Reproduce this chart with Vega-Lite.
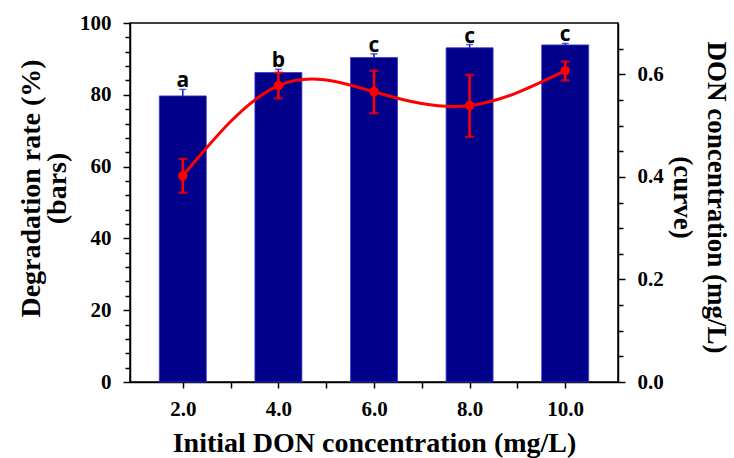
{
  "$schema": "https://vega.github.io/schema/vega-lite/v6.json",
  "width": 488,
  "height": 359,
  "autosize": {"type": "none"},
  "padding": {"left": 130, "top": 23, "right": 116, "bottom": 76},
  "background": "white",
  "config": {
    "view": {"stroke": "black", "strokeWidth": 1.5},
    "axis": {
      "labelFont": "Liberation Serif",
      "labelFontWeight": "bold",
      "labelFontSize": 21,
      "labelColor": "black",
      "labelOverlap": false,
      "labelBound": false,
      "titleFont": "Liberation Serif",
      "titleFontWeight": "bold",
      "titleFontSize": 27,
      "titleColor": "black",
      "domainColor": "black",
      "domainWidth": 1.5,
      "tickColor": "black",
      "tickWidth": 1.5,
      "grid": false
    }
  },
  "data": {
    "values": [
      {"conc": 2, "rate": 79.7, "rate_lo": 77.9, "rate_hi": 81.5, "don": 0.402, "don_lo": 0.369, "don_hi": 0.435, "letter": "a"},
      {"conc": 4, "rate": 86.2, "rate_lo": 85.3, "rate_hi": 87.1, "don": 0.578, "don_lo": 0.553, "don_hi": 0.603, "letter": "b"},
      {"conc": 6, "rate": 90.4, "rate_lo": 89.4, "rate_hi": 91.4, "don": 0.566, "don_lo": 0.524, "don_hi": 0.607, "letter": "c"},
      {"conc": 8, "rate": 93.1, "rate_lo": 92.2, "rate_hi": 94.0, "don": 0.539, "don_lo": 0.478, "don_hi": 0.599, "letter": "c"},
      {"conc": 10, "rate": 93.9, "rate_lo": 93.5, "rate_hi": 94.3, "don": 0.607, "don_lo": 0.588, "don_hi": 0.625, "letter": "c"}
    ]
  },
  "encoding": {
    "x": {
      "field": "conc", "type": "quantitative",
      "title": "Initial DON concentration (mg/L)",
      "scale": {"domain": [1, 11], "nice": false, "zero": false},
      "axis": {
        "values": [2, 3, 4, 5, 6, 7, 8, 9, 10],
        "tickCount": 100,
        "labelOverlap": false,
        "labelExpr": "datum.value % 2 === 0 ? format(datum.value, '.1f') : ''",
        "tickSize": 6,
        "labelPadding": 10,
        "titlePadding": 10,
        "titleFontSize": 28
      }
    }
  },
  "layer": [
    {
      "layer": [
        {
          "mark": {"type": "bar", "size": 47, "color": "#00008B", "stroke": "#3a3acc", "strokeWidth": 0.8},
          "encoding": {
            "y": {
              "field": "rate", "type": "quantitative",
              "title": ["Degradation rate (%)", "(bars)"],
              "scale": {"domain": [0, 100], "nice": false},
              "axis": {
                "titleLineHeight": 26,
                "titleFontSize": 28,
                "titleY": 165,
                "values": [0, 4, 8, 12, 16, 20, 24, 28, 32, 36, 40, 44, 48, 52, 56, 60, 64, 68, 72, 76, 80, 84, 88, 92, 96, 100],
                "tickCount": 100,
                "labelOverlap": false,
                "labelExpr": "datum.value % 20 === 0 ? datum.value : ''",
                "tickSize": {"condition": {"test": "datum.value % 20 === 0", "value": 7}, "value": 5},
                "labelPadding": 12,
                "titlePadding": 8
              }
            }
          }
        },
        {
          "mark": {"type": "rule", "color": "#1a1acc", "strokeWidth": 1.5},
          "encoding": {
            "y": {"field": "rate", "type": "quantitative", "title": ["Degradation rate (%)", "(bars)"]},
            "y2": {"field": "rate_hi"}
          }
        },
        {
          "mark": {"type": "tick", "orient": "horizontal", "color": "#1a1acc", "size": 7, "thickness": 1.5},
          "encoding": {
            "y": {"field": "rate_hi", "type": "quantitative", "title": ["Degradation rate (%)", "(bars)"]}
          }
        },
        {
          "mark": {"type": "text", "font": "Open Sans", "fontWeight": "bold", "fontSize": 21, "color": "black", "baseline": "alphabetic", "dy": -2},
          "encoding": {
            "y": {"field": "rate_hi", "type": "quantitative", "title": ["Degradation rate (%)", "(bars)"]},
            "text": {"field": "letter"}
          }
        }
      ]
    },
    {
      "layer": [
        {
          "mark": {"type": "line", "color": "#FF0000", "strokeWidth": 3, "interpolate": "natural"},
          "encoding": {
            "y": {
              "field": "don", "type": "quantitative",
              "title": ["DON concentration (mg/L)", "(curve)"],
              "scale": {"domain": [0, 0.7], "nice": false},
              "axis": {
                "orient": "right",
                "titleLineHeight": 34,
                "titleY": 174,
                "values": [0, 0.05, 0.1, 0.15, 0.2, 0.25, 0.3, 0.35, 0.4, 0.45, 0.5, 0.55, 0.6, 0.65],
                "tickCount": 100,
                "labelOverlap": false,
                "labelExpr": "abs(datum.value * 5 - round(datum.value * 5)) < 0.001 ? format(datum.value, '.1f') : ''",
                "tickSize": {"condition": {"test": "abs(datum.value * 5 - round(datum.value * 5)) < 0.001", "value": 7}, "value": 5},
                "labelPadding": 12,
                "titlePadding": 4
              }
            }
          }
        },
        {
          "mark": {"type": "rule", "color": "#FF0000", "strokeWidth": 2.5},
          "encoding": {
            "y": {"field": "don_lo", "type": "quantitative", "title": ["DON concentration (mg/L)", "(curve)"]},
            "y2": {"field": "don_hi"}
          }
        },
        {
          "mark": {"type": "tick", "orient": "horizontal", "color": "#FF0000", "size": 9, "thickness": 2.5},
          "encoding": {
            "y": {"field": "don_lo", "type": "quantitative", "title": ["DON concentration (mg/L)", "(curve)"]}
          }
        },
        {
          "mark": {"type": "tick", "orient": "horizontal", "color": "#FF0000", "size": 9, "thickness": 2.5},
          "encoding": {
            "y": {"field": "don_hi", "type": "quantitative", "title": ["DON concentration (mg/L)", "(curve)"]}
          }
        },
        {
          "mark": {"type": "point", "filled": true, "color": "#FF0000", "size": 90, "opacity": 1},
          "encoding": {
            "y": {"field": "don", "type": "quantitative", "title": ["DON concentration (mg/L)", "(curve)"]}
          }
        }
      ]
    }
  ],
  "resolve": {"scale": {"y": "independent"}, "axis": {"y": "independent"}}
}
